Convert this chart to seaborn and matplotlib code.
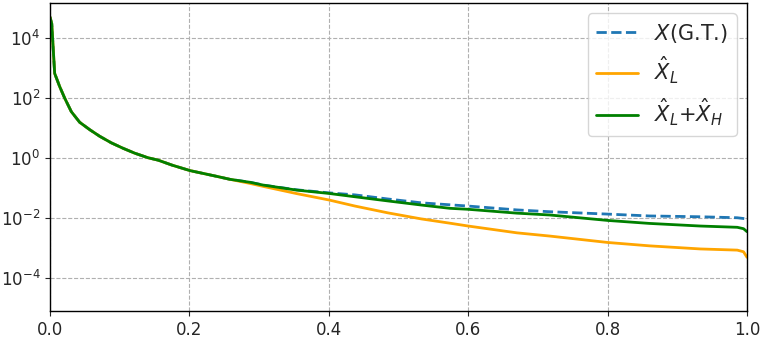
import numpy as np
import pandas as pd
import matplotlib
matplotlib.use("Agg")
import matplotlib.pyplot as plt
import seaborn as sns

# Shared initial part (all curves overlap)
x_head = [0.0, 0.0025, 0.0067, 0.0139, 0.021, 0.0306, 0.0426, 0.057, 0.0713, 0.088,
          0.105, 0.1215, 0.1406, 0.155, 0.175, 0.2009, 0.239, 0.258]
y_head = [5.0e4, 3.0e4, 6.6e2, 2.4e2, 1.0e2, 3.5e1, 1.55e1, 8.8, 5.3, 3.2,
          2.1, 1.45, 1.02, 0.85, 0.58, 0.38, 0.245, 0.195]

# Ground truth X (G.T.)
x_gt = [0.287, 0.306, 0.354, 0.4, 0.4376, 0.485, 0.533, 0.6, 0.67, 0.717, 0.8,
        0.86, 0.933, 0.986, 1.0]
y_gt = [0.155, 0.125, 0.087, 0.069, 0.059, 0.043, 0.032, 0.025, 0.0186, 0.0162,
        0.0135, 0.0117, 0.0110, 0.0102, 0.0093]

# X_L hat
x_l = [0.287, 0.306, 0.354, 0.4, 0.4376, 0.485, 0.533, 0.574, 0.6, 0.67, 0.717,
       0.8, 0.86, 0.933, 0.986, 0.995, 1.0]
y_l = [0.142, 0.113, 0.065, 0.040, 0.025, 0.0148, 0.0093, 0.0067, 0.0054, 0.0032,
       0.0025, 0.00153, 0.00118, 0.00093, 0.00085, 0.00075, 0.00049]

# X_L hat + X_H hat
x_lh = [0.287, 0.306, 0.354, 0.4, 0.4376, 0.485, 0.533, 0.574, 0.6, 0.67, 0.717,
        0.8, 0.86, 0.933, 0.986, 0.995, 1.0]
y_lh = [0.155, 0.125, 0.085, 0.066, 0.051, 0.037, 0.027, 0.021, 0.0195, 0.0145,
        0.0126, 0.0083, 0.0066, 0.0054, 0.0049, 0.0044, 0.0035]

df_gt = pd.DataFrame({"x": x_head + x_gt, "y": y_head + y_gt})
df_l = pd.DataFrame({"x": x_head + x_l, "y": y_head + y_l})
df_lh = pd.DataFrame({"x": x_head + x_lh, "y": y_head + y_lh})

sns.set_style("white")
plt.rcParams['font.family'] = ['DejaVu Sans']

fig = plt.figure(figsize=(7.62, 3.38), dpi=100)
ax = fig.add_axes([50/762, 1-311/338, 697/762, 308/338])

sns.lineplot(data=df_gt, x="x", y="y", ax=ax, color="#1f77b4", linestyle="--",
             linewidth=2, label=r"$X$(G.T.)", estimator=None, sort=False)
sns.lineplot(data=df_l, x="x", y="y", ax=ax, color="orange", linewidth=2,
             label=r"$\hat{X}_L$", estimator=None, sort=False)
sns.lineplot(data=df_lh, x="x", y="y", ax=ax, color="green", linewidth=2,
             label=r"$\hat{X}_L$+$\hat{X}_H$", estimator=None, sort=False)

ax.set_yscale("log")
ax.set_xlim(0, 1)
ax.set_ylim(10**-5.1, 10**5.167)
ax.set_yticks([1e-4, 1e-2, 1e0, 1e2, 1e4])
ax.set_xticks([0.0, 0.2, 0.4, 0.6, 0.8, 1.0])
ax.minorticks_off()
ax.set_xlabel("")
ax.set_ylabel("")
ax.grid(True, linestyle="--", color="#b0b0b0", linewidth=0.8)
ax.tick_params(axis="both", labelsize=12, length=3.5, width=0.8, direction="out",
               bottom=True, left=True)
for s in ax.spines.values():
    s.set_color("black")
    s.set_linewidth(1.0)

ax.legend(loc="upper right", fontsize=15, handlelength=2, framealpha=0.8)

fig.savefig("out.png", dpi=100)
